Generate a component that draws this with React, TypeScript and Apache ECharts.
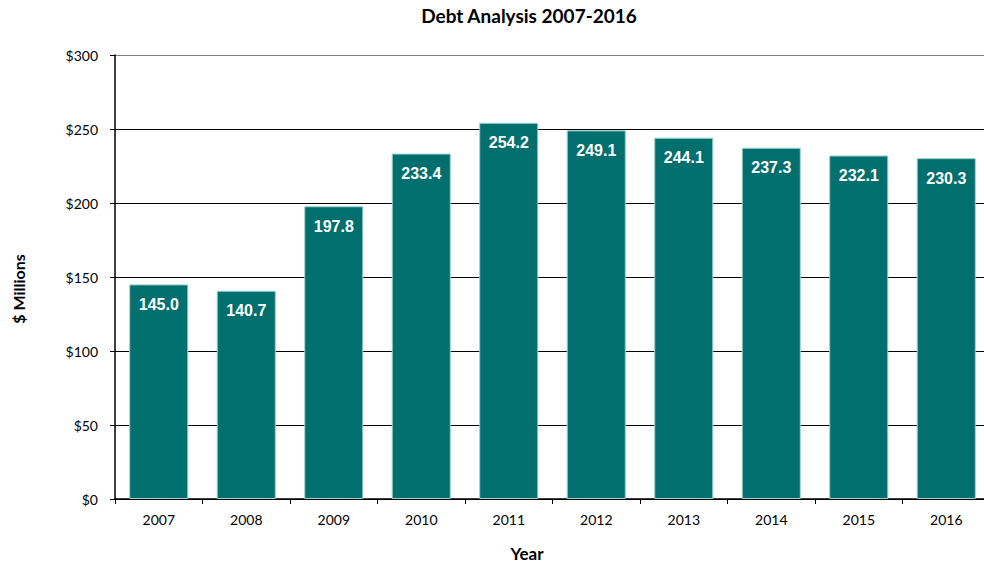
import React, { useEffect, useRef } from "react";
import * as echarts from "echarts";

const years = ["2007", "2008", "2009", "2010", "2011", "2012", "2013", "2014", "2015", "2016"];
const debt = [145.0, 140.7, 197.8, 233.4, 254.2, 249.1, 244.1, 237.3, 232.1, 230.3];
const titleText = "Debt Analysis 2007-2016";
const yName = "$ Millions";
const xName = "Year";

export default function App() {
  const ref = useRef<HTMLDivElement>(null);
  useEffect(() => {
    if (!ref.current) return;
    const chart = echarts.init(ref.current, null, { renderer: "svg" });
    chart.setOption({
      animation: false,
      backgroundColor: "#ffffff",
      grid: { left: 115, top: 55, width: 875, height: 444, containLabel: false, outerBoundsMode: "none" },
      graphic: [
        {
          type: "text",
          x: 529,
          y: 15,
          style: {
            text: titleText,
            font: "bold 19px Lato, 'Open Sans', sans-serif",
            fill: "#000",
            align: "center",
            verticalAlign: "middle",
          },
        },
        {
          type: "text",
          x: 18,
          y: 289,
          rotation: Math.PI / 2,
          style: {
            text: yName,
            font: "bold 16px Lato, 'Open Sans', sans-serif",
            fill: "#000",
            align: "center",
            verticalAlign: "middle",
          },
        },
        {
          type: "text",
          x: 527,
          y: 553,
          style: {
            text: xName,
            font: "bold 17px Lato, 'Open Sans', sans-serif",
            fill: "#000",
            align: "center",
            verticalAlign: "middle",
          },
        },
      ],
      xAxis: {
        type: "category",
        data: years,
        axisLine: { lineStyle: { color: "#000", width: 1.5 } },
        axisTick: { show: true, length: 5, lineStyle: { color: "#000" } },
        axisLabel: { color: "#000", fontFamily: "Lato, 'Open Sans', sans-serif", fontSize: 14, margin: 13 },
      },
      yAxis: {
        type: "value",
        min: 0,
        max: 300,
        interval: 50,
        axisLine: { show: true, lineStyle: { color: "#000", width: 1.5 } },
        axisTick: { show: true, length: 5, lineStyle: { color: "#000" } },
        axisLabel: {
          color: "#000",
          fontFamily: "Lato, 'Open Sans', sans-serif",
          fontSize: 14,
          margin: 17,
          formatter: (v: number) => "$" + v,
        },
        splitLine: {
          lineStyle: {
            color: ["#000", "#000", "#000", "#000", "#000", "#000", "#7f7f7f"],
            width: 1.2,
          },
        },
      },
      series: [
        {
          type: "bar",
          data: debt,
          barCategoryGap: "32.5%",
          itemStyle: { color: "#006f6d", borderColor: "#9fd2d0", borderWidth: 1 },
          label: {
            show: true,
            position: "insideTop",
            distance: 12,
            color: "#fff",
            fontWeight: "bold",
            fontSize: 16,
            fontFamily: "'Liberation Sans', Arial, sans-serif",
            formatter: (p: any) => Number(p.value).toFixed(1),
          },
        },
      ],
    });
    return () => chart.dispose();
  }, []);
  return <div ref={ref} style={{ position: "fixed", left: 0, top: 0, width: 984, height: 565 }} />;
}
